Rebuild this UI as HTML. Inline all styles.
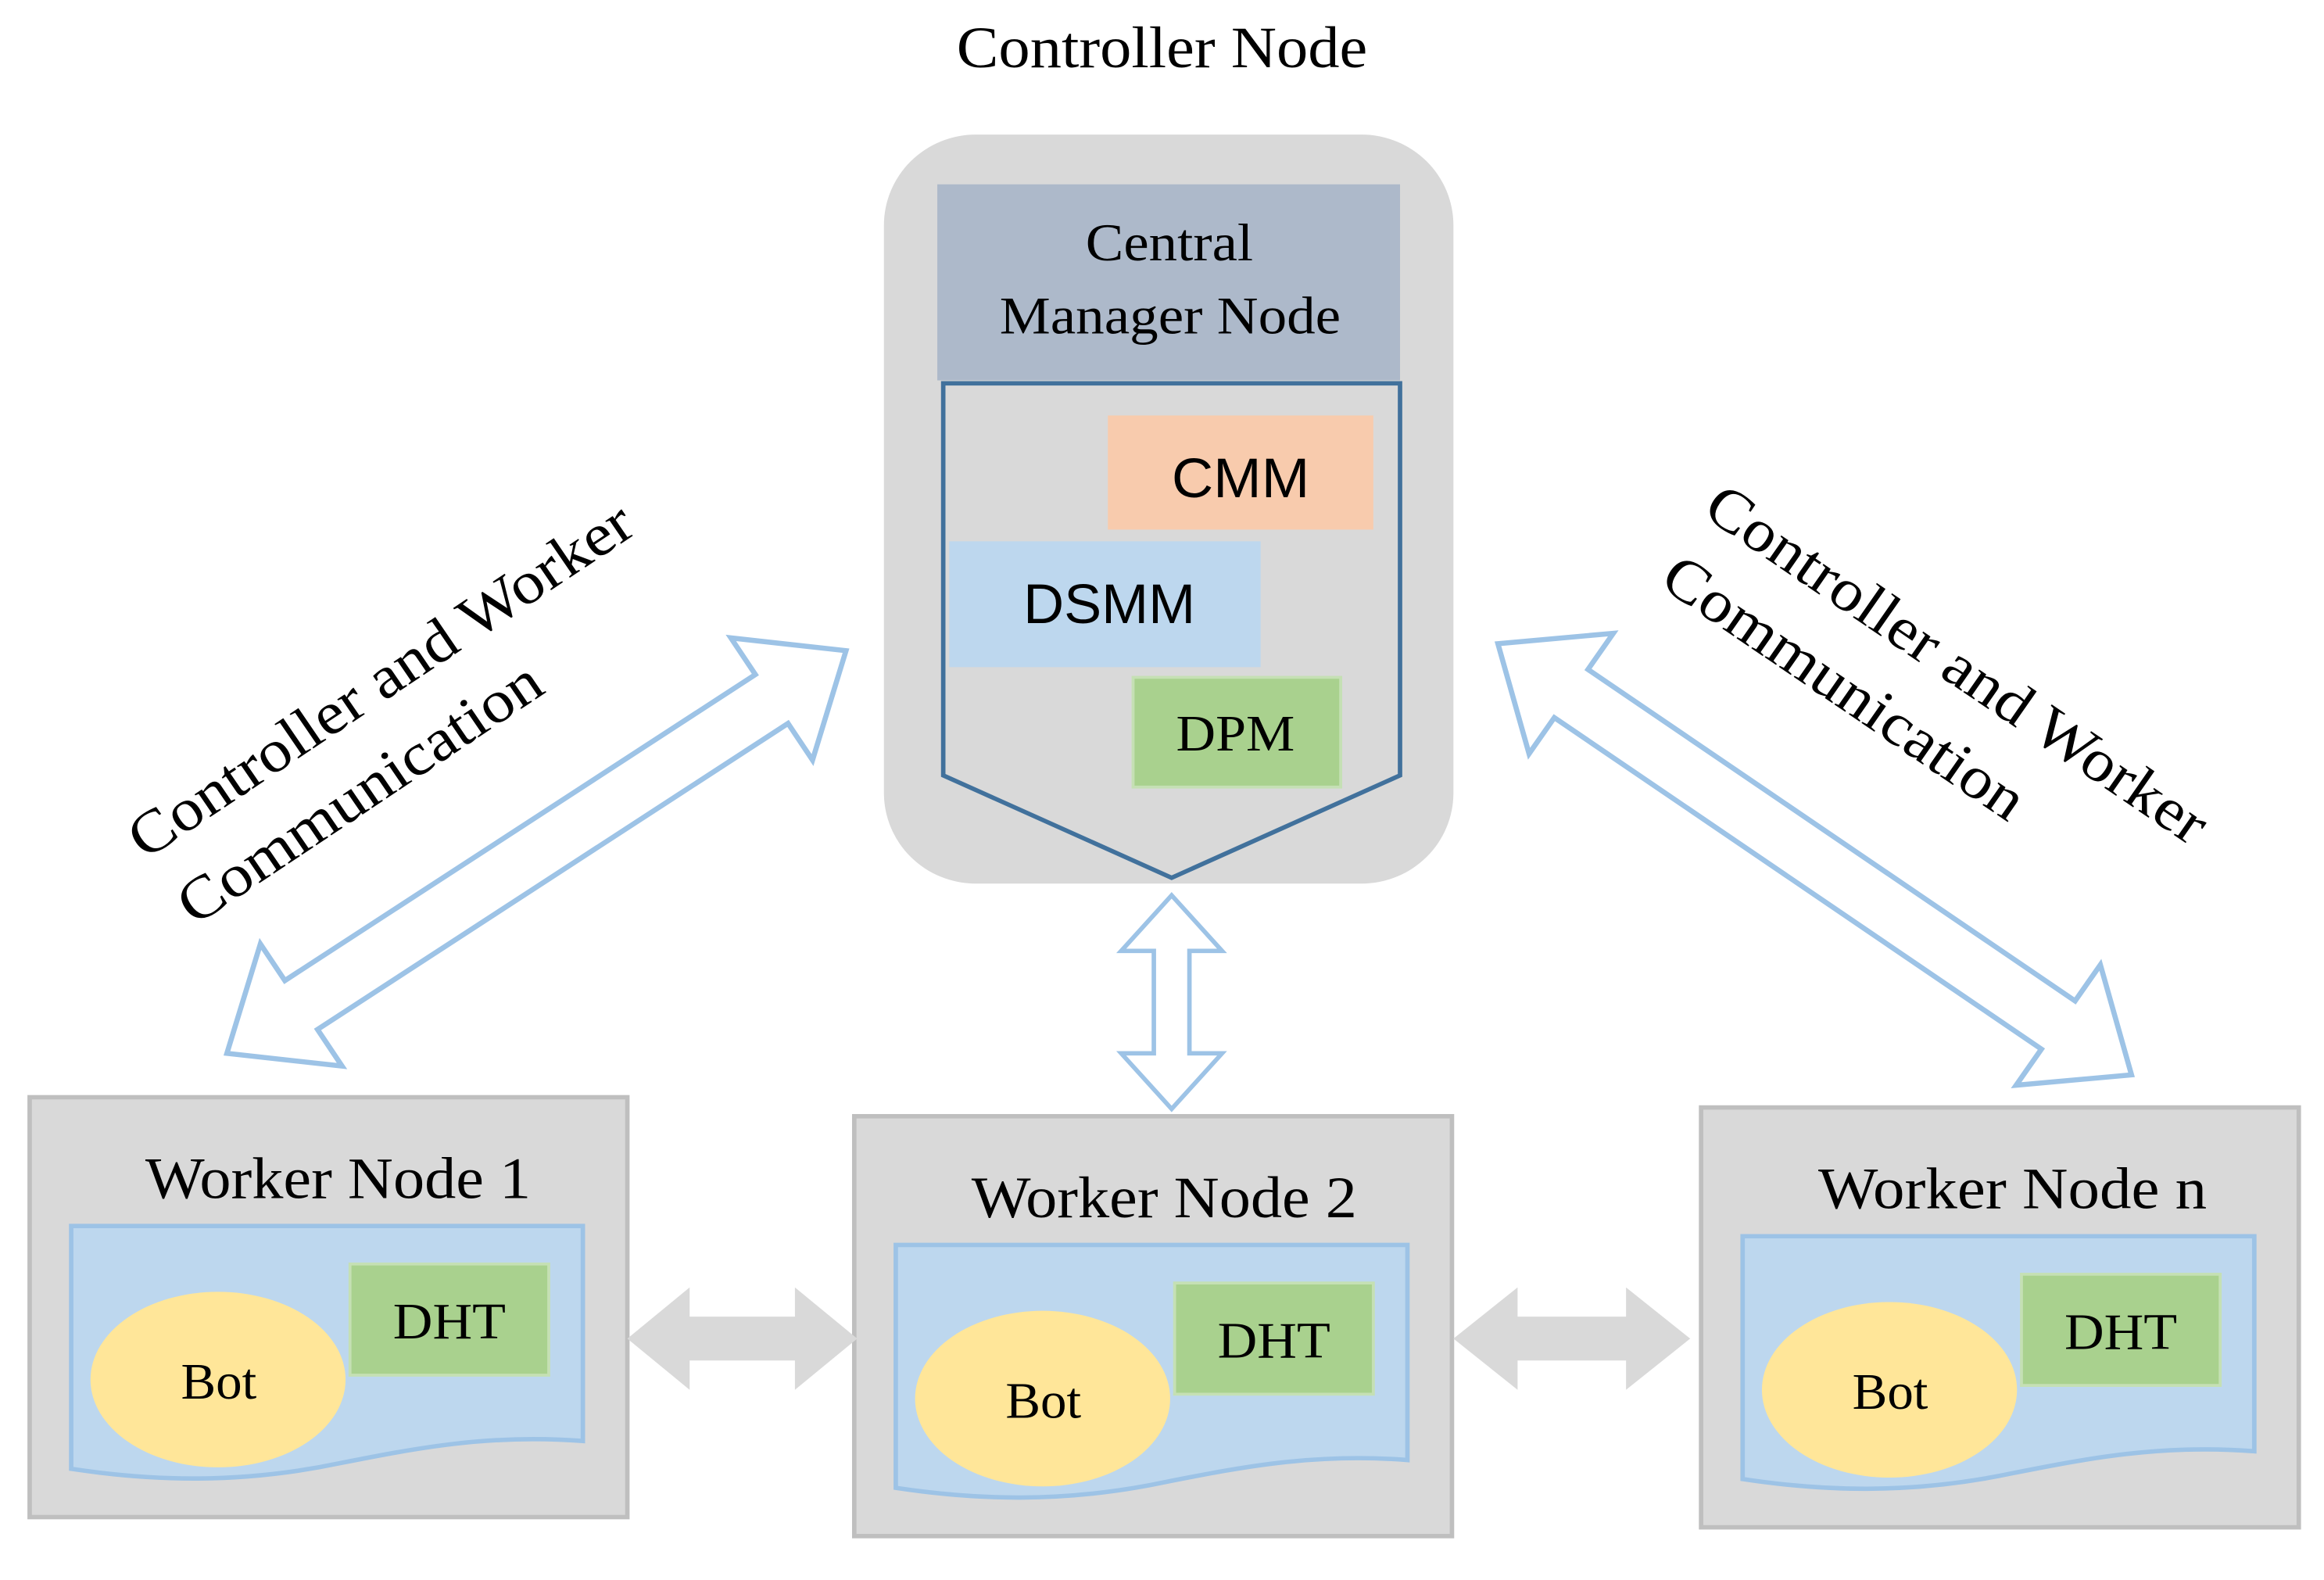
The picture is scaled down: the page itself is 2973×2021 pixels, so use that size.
<!DOCTYPE html>
<html><head><meta charset="utf-8"><style>html,body{margin:0;padding:0;background:#fff}svg{display:block}</style></head>
<body>
<svg width="2973" height="2021" viewBox="0 0 1567 1080" preserveAspectRatio="none" xmlns="http://www.w3.org/2000/svg">
<defs>
<g id="worker">
  <rect x="20" y="750" width="403" height="287" fill="#d9d9d9" stroke="#bfbfbf" stroke-width="3"/>
  <path d="M48,838 L393,838 L393,985 C330,980 280,990 230,1000 C160,1015 100,1012 48,1004 Z" fill="#bdd7ee" stroke="#9dc3e6" stroke-width="3"/>
  <ellipse cx="147" cy="943" rx="86" ry="60" fill="#ffe699"/>
  <rect x="236" y="864" width="134" height="76" fill="#a9d18e" stroke="#c5e0b4" stroke-width="2"/>
  <text x="122" y="956" font-size="35" textLength="51" lengthAdjust="spacingAndGlyphs">Bot</text>
  <text x="265" y="915" font-size="35" textLength="76" lengthAdjust="spacingAndGlyphs">DHT</text>
</g>
<g id="harrow"><polygon points="0,0 42,-35 42,-15 113,-15 113,-35 155,0 113,35 113,15 42,15 42,35" fill="#d9d9d9"/></g>
</defs>
<g font-family="'Liberation Serif', serif" fill="#000">
<text x="645" y="46" font-size="40" textLength="277" lengthAdjust="spacingAndGlyphs">Controller Node</text>
<rect x="596" y="92" width="384" height="512" rx="62" fill="#d9d9d9"/>
<rect x="632" y="126" width="312" height="134" fill="#adb9ca"/>
<text x="732" y="178" font-size="36" textLength="113" lengthAdjust="spacingAndGlyphs">Central</text>
<text x="674" y="228" font-size="36" textLength="230" lengthAdjust="spacingAndGlyphs">Manager Node</text>
<polygon points="636,262 944,262 944,530 790,600 636,530" fill="#d9d9d9" stroke="#41719c" stroke-width="3"/>
<rect x="747" y="284" width="179" height="78" fill="#f8cbad"/>
<text x="790" y="340" font-size="38" textLength="93" lengthAdjust="spacingAndGlyphs" font-family="'Liberation Sans', sans-serif">CMM</text>
<rect x="640" y="370" width="210" height="86" fill="#bdd7ee"/>
<text x="690" y="426" font-size="38" textLength="116" lengthAdjust="spacingAndGlyphs" font-family="'Liberation Sans', sans-serif">DSMM</text>
<rect x="764" y="463" width="140" height="75" fill="#a9d18e" stroke="#c5e0b4" stroke-width="2"/>
<text x="793" y="513" font-size="35" textLength="80" lengthAdjust="spacingAndGlyphs">DPM</text>
<polygon points="790,612 824,650 802,650 802,720 824,720 790,758 756,720 778,720 778,650 756,650" fill="none" stroke="#9dc3e6" stroke-width="3"/>
<g transform="translate(153,720) rotate(-33.4)">
<polygon points="0,0 60,-50 60,-20 440,-20 440,-50 500,0 440,50 440,20 60,20 60,50" fill="none" stroke="#9dc3e6" stroke-width="3.5"/>
</g>
<g transform="translate(1010,440) rotate(34.6)">
<polygon points="0,0 60,-50 60,-20 459,-20 459,-50 519,0 459,50 459,20 60,20 60,50" fill="none" stroke="#9dc3e6" stroke-width="3.5"/>
</g>
<text font-size="41" text-anchor="middle" textLength="401" lengthAdjust="spacingAndGlyphs" transform="translate(264,476) rotate(-34)">Controller and Worker</text>
<text font-size="41" text-anchor="middle" textLength="287" lengthAdjust="spacingAndGlyphs" transform="translate(250,553) rotate(-34)">Communication</text>
<text font-size="41" text-anchor="middle" textLength="401" lengthAdjust="spacingAndGlyphs" transform="translate(1312,465) rotate(34.5)">Controller and Worker</text>
<text font-size="41" text-anchor="middle" textLength="287" lengthAdjust="spacingAndGlyphs" transform="translate(1236,481) rotate(34.5)">Communication</text>
<use href="#worker"/>
<text x="98" y="819" font-size="40" textLength="260" lengthAdjust="spacingAndGlyphs">Worker Node 1</text>
<g transform="translate(556,13)"><use href="#worker"/></g>
<text x="655" y="832" font-size="40" textLength="260" lengthAdjust="spacingAndGlyphs">Worker Node 2</text>
<g transform="translate(1127,7)"><use href="#worker"/></g>
<text x="1226" y="826" font-size="40" textLength="262" lengthAdjust="spacingAndGlyphs">Worker Node n</text>
<g transform="translate(423,915)"><use href="#harrow"/></g>
<g transform="translate(980,915) scale(1.03,1)"><use href="#harrow"/></g>
</g>
</svg>
</body></html>
